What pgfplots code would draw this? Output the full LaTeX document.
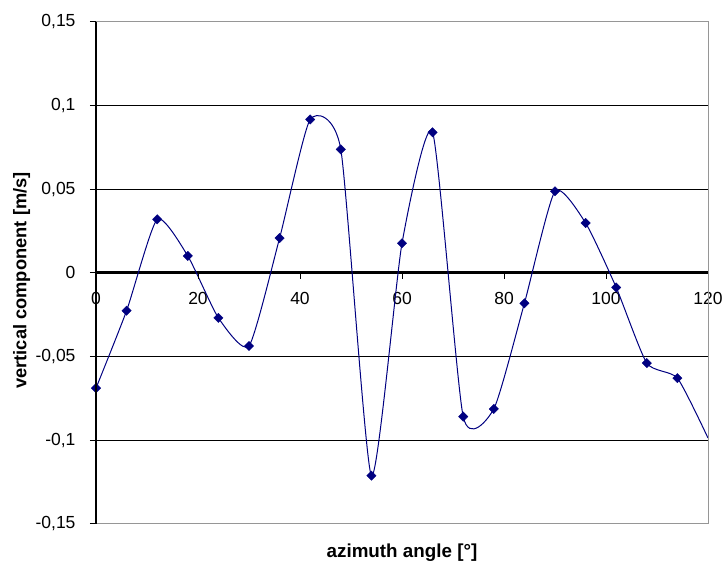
\documentclass[border=0pt]{standalone}
\usepackage{fontspec}
\setmainfont{Liberation Sans}
\usepackage{pgfplots}
\usepackage{pgfplotstable}
\pgfplotsset{compat=1.18}
\definecolor{navy}{RGB}{0,0,128}
\definecolor{bordergray}{RGB}{150,150,150}
\pgfplotstableread{
x y
0 -0.069
6 -0.0227
12 0.0319
18 0.010
24 -0.027
30 -0.0438
36 0.0207
42 0.0916
48 0.0737
54 -0.1213
60 0.0176
66 0.0839
72 -0.086
78 -0.0814
84 -0.0183
90 0.0487
96 0.0297
102 -0.0088
108 -0.054
114 -0.063
120 -0.0988
}\datatable
\begin{document}
\begin{tikzpicture}
\begin{axis}[
  name=ax,
  scale only axis,
  width=612pt, height=502pt,
  xmin=0, xmax=120, ymin=-0.15, ymax=0.15,
  axis x line=middle, axis y line=left,
  hide obscured x ticks=false,
  axis line style={-, black},
  x axis line style={line width=2.5pt},
  y axis line style={line width=1.2pt},
  tick align=outside,
  major tick length=6pt,
  tick style={black, line width=1pt},
  xtick={0,20,...,120},
  xticklabels={0,20,40,60,80,100,120},
  ytick={-0.15,-0.1,-0.05,0,0.05,0.1,0.15},
  yticklabels={{-0,15},{-0,1},{-0,05},{0},{0,05},{0,1},{0,15}},
  ymajorgrids,
  grid style={black, line width=1pt},
  ticklabel style={font=\fontsize{17.5}{19}\selectfont},
  yticklabel style={xshift=-11pt},
  xticklabel style={yshift=-10pt},
  xlabel={azimuth angle [°]},
  ylabel={vertical component [m/s]},
  xlabel style={font=\fontsize{18.8}{20}\selectfont\bfseries, at={(axis description cs:0.5,-0.0584)}, anchor=center},
  ylabel style={font=\fontsize{18.3}{20}\selectfont\bfseries, at={(axis description cs:-0.1214,0.4845)}, anchor=center},
]
\addplot[navy, line width=1pt, smooth, tension=0.35, no markers] table[x=x,y=y] {\datatable};
\addplot[navy, only marks, mark=square*, mark size=3.3pt, mark options={rotate=45, fill=navy, draw=navy}, skip coords between index={20}{21}] table[x=x,y=y] {\datatable};
\foreach \xx in {0,20,...,120} {
  \edef\temp{\noexpand\draw[black, line width=1pt] (axis cs:\xx,0) -- ++(0pt,-6pt);}
  \temp
}
\end{axis}
\draw[bordergray, line width=1pt] (ax.north west) -- (ax.north east) -- (ax.south east) -- (ax.south west);
\draw[black, line width=1.2pt] (ax.north west) -- (ax.south west);
\pgfresetboundingbox
\path ([shift={(-96pt,-41.3pt)}]ax.south west) rectangle ([shift={(14pt,21.7pt)}]ax.north east);
\end{tikzpicture}
\end{document}
